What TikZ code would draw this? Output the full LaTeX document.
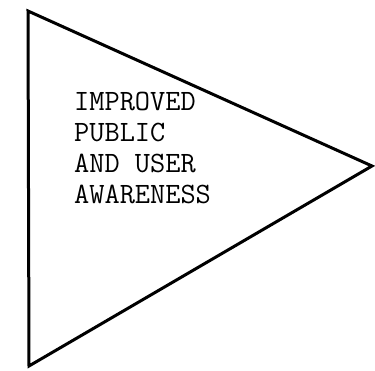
\documentclass[tikz,border=0pt]{standalone}
\usepackage{tikz}
\usetikzlibrary{positioning, calc}

\begin{document}
\begin{tikzpicture}[
      x=1pt, y=-1pt,
      edge/.style = {draw, line width=3pt, line join=miter},
      lbl/.style  = {font=\fontsize{29.5}{30.7}\selectfont\ttfamily,
                     align=left, inner sep=0pt, anchor=base west}
    ]
    \useasboundingbox (0,0) rectangle (375,370);
    % ecken
    \coordinate (top) at (28,11);
    \coordinate (tip) at (372,166);
    \coordinate (bot) at (29,366);
    % dreieck
    \path[edge] (top) -- (tip) -- (bot) -- cycle;
    % text (basis der letzten zeile)
    \node[lbl] (txt) at (74,203) {IMPROVED\\PUBLIC\\AND USER\\AWARENESS};
  \end{tikzpicture}
\end{document}
